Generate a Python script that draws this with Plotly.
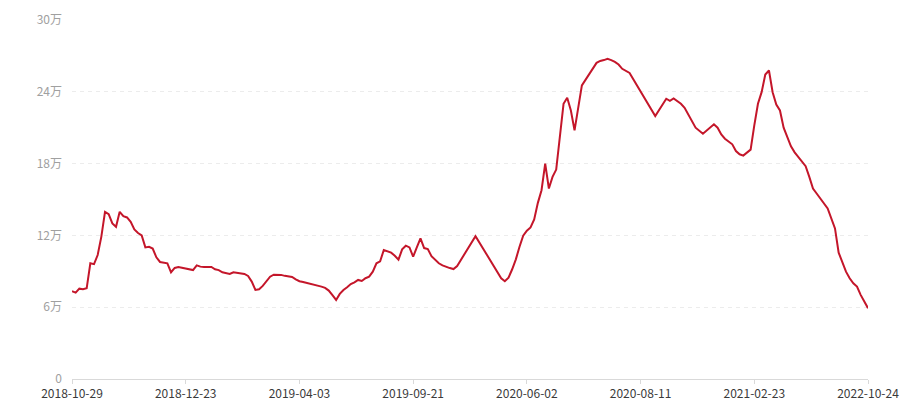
import plotly.graph_objects as go
import numpy as np

# point index on the category axis (218 points, only the visible vertices are kept)
n_points = 218
idx = [0, 1, 2, 3, 4, 5, 6, 7, 8, 9, 10, 11, 12, 13, 14, 15, 16, 17, 18, 19,
       20, 21, 22, 23, 24, 25, 26, 27, 28, 29, 30, 31, 33, 34, 35, 36, 38, 39, 40, 41,
       42, 43, 44, 45, 47, 48, 49, 50, 51, 52, 53, 54, 55, 56, 57, 58, 59, 60, 61, 62,
       63, 64, 65, 66, 67, 68, 69, 70, 71, 72, 73, 74, 75, 76, 77, 78, 79, 80, 81, 82,
       83, 84, 85, 86, 87, 88, 89, 90, 91, 92, 93, 94, 95, 96, 97, 98, 99, 100, 101, 102,
       103, 104, 105, 110, 117, 118, 119, 120, 121, 122, 123, 124, 125, 126, 127, 128, 129, 130, 131, 132,
       134, 135, 136, 137, 138, 139, 143, 144, 145, 146, 147, 148, 149, 150, 152, 159, 162, 163, 164, 165,
       166, 167, 170, 172, 174, 175, 176, 177, 178, 180, 181, 182, 183, 184, 185, 186, 187, 188, 189, 190,
       191, 192, 193, 194, 196, 197, 199, 200, 201, 202, 203, 204, 205, 206, 208, 209, 211, 212, 213, 214,
       215, 217]

# values in 万
vals = [7.33, 7.22, 7.55, 7.5, 7.58, 9.67, 9.6, 10.36, 11.9, 13.97, 13.78, 13.0, 12.72, 13.97, 13.6, 13.5, 13.13, 12.5, 12.2, 12.0,
        11.0, 11.05, 10.9, 10.17, 9.78, 9.72, 9.67, 8.92, 9.28, 9.36, 9.28, 9.22, 9.1, 9.5, 9.39, 9.36, 9.36, 9.17, 9.1, 8.92,
        8.83, 8.78, 8.92, 8.89, 8.78, 8.61, 8.14, 7.44, 7.5, 7.78, 8.14, 8.55, 8.72, 8.72, 8.7, 8.62, 8.55, 8.53, 8.33, 8.17,
        8.11, 8.03, 8.0, 7.92, 7.8, 7.72, 7.61, 7.39, 7.0, 6.61, 7.11, 7.44, 7.67, 7.94, 8.08, 8.28, 8.19, 8.42, 8.55, 8.97,
        9.67, 9.83, 10.78, 10.64, 10.56, 10.3, 9.97, 10.83, 11.14, 11.0, 10.22, 11.0, 11.75, 10.94, 10.86, 10.27, 9.94, 9.67, 9.5, 9.36,
        9.27, 9.19, 9.44, 11.94, 8.42, 8.17, 8.47, 9.17, 10.0, 11.05, 11.97, 12.39, 12.67, 13.33, 14.72, 15.78, 18.0, 15.92, 16.89, 17.5,
        23.0, 23.5, 22.44, 20.78, 22.72, 24.53, 26.42, 26.58, 26.65, 26.75, 26.65, 26.5, 26.28, 25.92, 25.58, 21.97, 23.42, 23.25, 23.44, 23.25,
        23.0, 22.67, 21.0, 20.5, 20.97, 21.28, 21.0, 20.44, 20.08, 19.61, 19.05, 18.78, 18.67, 18.92, 19.17, 21.19, 23.0, 23.97, 25.44, 25.78,
        23.97, 22.94, 22.44, 21.0, 19.44, 18.94, 18.14, 17.78, 16.89, 15.92, 15.5, 15.1, 14.61, 14.25, 12.58, 10.56, 8.97, 8.42, 8.0, 7.72,
        7.03, 5.92]

tick_dates = ["2018-10-29", "2018-12-23", "2019-04-03", "2019-09-21",
              "2020-06-02", "2020-08-11", "2021-02-23", "2022-10-24"]
y_ticks = [0, 6, 12, 18, 24, 30]
y_labels = ["0", "6万", "12万", "18万", "24万", "30万"]

tick_pos = np.linspace(0, n_points - 1, len(tick_dates))

fig = go.Figure()
fig.add_trace(go.Scatter(x=idx, y=vals, mode='lines',
                         line=dict(color='#c4162a', width=2), hoverinfo='skip'))

fig.update_layout(
    width=900, height=400,
    margin=dict(l=72, r=32, t=20, b=21, autoexpand=False),
    plot_bgcolor='white', paper_bgcolor='white',
    showlegend=False,
    font=dict(family='Noto Sans CJK SC, sans-serif', size=12),
)
fig.update_xaxes(
    range=[0, n_points - 1], tickvals=tick_pos, ticktext=tick_dates,
    automargin=False,
    showgrid=False, zeroline=False,
    showline=True, linecolor='#d9d9d9', linewidth=1,
    ticks='outside', ticklen=4, tickcolor='#d9d9d9',
    ticklabelstandoff=0,
    tickfont=dict(color='#3a3a3a', size=12),
)
fig.update_yaxes(
    range=[0, 30], tickvals=y_ticks, ticktext=y_labels,
    automargin=False,
    showgrid=True, gridcolor='#ececec', griddash='4px,4px', gridwidth=1,
    zeroline=False, showline=False, ticks='', ticklabelstandoff=9,
    tickfont=dict(color='#a0a0a0', size=12),
)

# drop the page's default body margin so the figure sits at the window corner
fig.write_html("out.html", config={'displayModeBar': False},
               post_script="document.body.style.margin='0';document.body.style.overflow='hidden';")
